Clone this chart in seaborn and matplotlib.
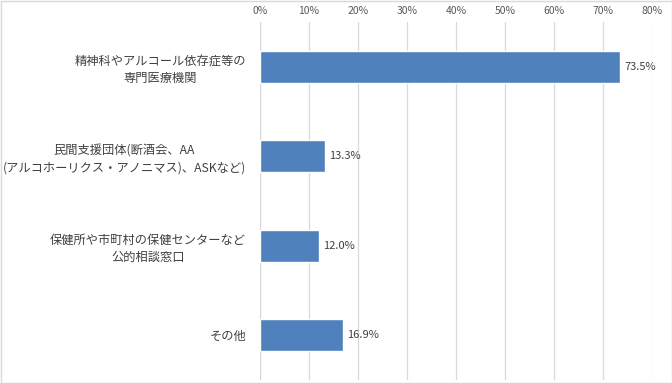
import matplotlib
matplotlib.use("Agg")
import matplotlib.pyplot as plt
import seaborn as sns
import pandas as pd
from matplotlib.patches import Rectangle

# data
categories = [
    "精神科やアルコール依存症等の\n専門医療機関",
    "民間支援団体(断酒会、AA\n(アルコホーリクス・アノニマス)、ASKなど)",
    "保健所や市町村の保健センターなど\n公的相談窓口",
    "その他",
]
values = [73.5, 13.3, 12.0, 16.9]
ticks = [0, 10, 20, 30, 40, 50, 60, 70, 80]

df = pd.DataFrame({"cat": categories, "val": values})

sns.set_theme(style="white")
plt.rcParams["font.family"] = ["Noto Sans CJK JP", "DejaVu Sans"]

fig = plt.figure(figsize=(6.72, 3.83), dpi=100)
ax = fig.add_axes([260 / 672, 1 - 380 / 383, 392 / 672, 358 / 383])

sns.barplot(data=df, x="val", y="cat", color="#4F81BD", width=0.36,
            saturation=1, ax=ax, zorder=3)

ax.set_xlim(0, 80)
ax.set_xticks(ticks)
ax.set_xticklabels([f"{t}%" for t in ticks], fontsize=7.5, color="#595959")
ax.xaxis.tick_top()
ax.tick_params(axis="x", length=0, pad=4)
ax.tick_params(axis="y", length=0, pad=10)
for lbl in ax.get_yticklabels():
    lbl.set_fontsize(8.8)
    lbl.set_color("#404040")
    lbl.set_multialignment("center")
    lbl.set_linespacing(1.35)
ax.set_xlabel("")
ax.set_ylabel("")
ax.grid(axis="x", color="#D9D9D9", linewidth=0.9, zorder=0)
for s in ax.spines.values():
    s.set_visible(False)
ax.axvline(0, color="#D9D9D9", linewidth=0.9, zorder=1)

for i, v in enumerate(values):
    ax.text(v + 0.8, i, f"{v:.1f}%", va="center", ha="left",
            fontsize=8, color="#404040")

fig.add_artist(Rectangle((0.5 / 672, 0.5 / 383), 671 / 672, 382 / 383,
                         transform=fig.transFigure, fill=False,
                         edgecolor="#D9D9D9", linewidth=1))

fig.savefig("out.png", dpi=100)
